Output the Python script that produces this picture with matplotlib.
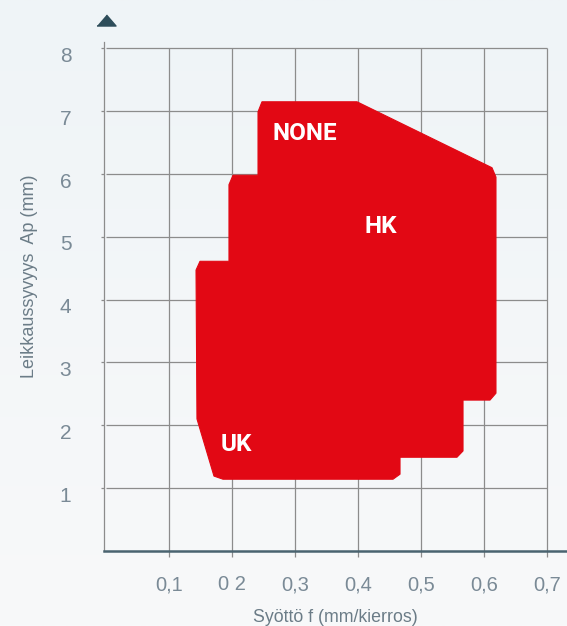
import matplotlib
matplotlib.use("Agg")
import matplotlib.pyplot as plt
from matplotlib.patches import Polygon
from matplotlib.transforms import ScaledTranslation
import numpy as np

# ---- data ----
region_feed = [0.2413, 0.2476, 0.3984, 0.6127, 0.6190, 0.6190, 0.6095, 0.5667,
               0.5667, 0.5571, 0.4667, 0.4667, 0.4556, 0.1857, 0.1714, 0.1444,
               0.1429, 0.1492, 0.1952, 0.1952, 0.2016, 0.2413]
region_depth = [6.99, 7.15, 7.15, 6.10, 5.95, 2.51, 2.40, 2.40,
                1.59, 1.49, 1.49, 1.22, 1.14, 1.14, 1.19, 2.10,
                4.47, 4.61, 4.61, 5.83, 5.98, 5.98]
zone_names = ["NONE", "HK", "UK"]
zone_feed = [0.316, 0.4365, 0.2063]
zone_depth = [6.64, 5.16, 1.70]
x_ticks = [0.1, 0.2, 0.3, 0.4, 0.5, 0.6, 0.7]
x_ticklabels = ["0,1", "0 2", "0,3", "0,4", "0,5", "0,6", "0,7"]
y_ticks = [1, 2, 3, 4, 5, 6, 7, 8]
y_ticklabels = ["1", "2", "3", "4", "5", "6", "7", "8"]
x_title = "Syöttö f (mm/kierros)"
y_title = "Leikkaussyvyys  Ap (mm)"

# ---- style ----
RED = "#e20814"
GRID = "#8c8c8c"
TICKTXT = "#7a8a96"
TITLETXT = "#6b7c87"
AXDARK = "#4a6470"
plt.rcParams["font.family"] = ["Liberation Sans", "DejaVu Sans"]

fig = plt.figure(figsize=(5.67, 6.26), dpi=100)
fig.patch.set_facecolor("#f2f5f8")

# subtle background gradient
bg = fig.add_axes([0, 0, 1, 1], zorder=-10)
grad = np.linspace(0, 1, 256).reshape(-1, 1)
bg.imshow(grad, aspect="auto", cmap=matplotlib.colors.LinearSegmentedColormap.from_list(
    "bg", ["#eff4f7", "#f8f9fa"]), extent=[0, 1, 0, 1])
bg.axis("off")

ax = fig.add_axes([104 / 567, 75 / 626, 463 / 567, 509 / 626])
ax.set_facecolor("none")
ax.set_xlim(-0.00317, 0.73175)
ax.set_ylim(-0.003, 8.102)

# grid lines
ax.hlines(y_ticks, 0, x_ticks[-1], color=GRID, lw=0.9, zorder=1)
ax.vlines(x_ticks, 0, y_ticks[-1], color=GRID, lw=0.9, zorder=1)

# red region
ax.add_patch(Polygon(np.column_stack([region_feed, region_depth]), closed=True,
                     facecolor=RED, edgecolor=RED, lw=0.8, joinstyle="round", zorder=3))
for name, fx, dy in zip(zone_names, zone_feed, zone_depth):
    ax.text(fx, dy, name, color="white", fontsize=17.5, fontweight="semibold",
            ha="center", va="center", zorder=4,
            family=["Liberation Sans Narrow", "Roboto", "DejaVu Sans"])

# spines
for s in ["top", "right"]:
    ax.spines[s].set_visible(False)
ax.spines["left"].set_color(GRID)
ax.spines["left"].set_linewidth(0.9)
ax.spines["bottom"].set_color(AXDARK)
ax.spines["bottom"].set_linewidth(1.8)
ax.spines["bottom"].set_zorder(5)

ax.set_xticks(x_ticks)
ax.set_xticklabels(x_ticklabels)
ax.set_yticks(y_ticks)
ax.set_yticklabels(y_ticklabels)
ax.tick_params(axis="x", length=4.5, width=0.9, color=GRID, pad=13,
               labelsize=14.5, labelcolor=TICKTXT)
ax.tick_params(axis="y", length=2.5, width=0.9, color=GRID, pad=21,
               labelsize=15, labelcolor=TICKTXT)
off = ScaledTranslation(0, -6 / 100, fig.dpi_scale_trans)
for lbl in ax.get_yticklabels():
    lbl.set_transform(lbl.get_transform() + off)

# arrow marker at top of y axis
ax.plot([0], [8.46], marker=[(-1, -0.58), (1, -0.58), (0, 0.58)], markersize=13.7,
        color="#2e4d5a", clip_on=False, zorder=6)

fig.text(335 / 567, 1 - 617 / 626, x_title, ha="center", va="center",
         fontsize=12.8, color=TITLETXT)
fig.text(30 / 567, 1 - 276 / 626, y_title, ha="center", va="center",
         rotation=90, fontsize=13, color=TITLETXT)

fig.savefig("out.png", dpi=100, facecolor=fig.get_facecolor())
